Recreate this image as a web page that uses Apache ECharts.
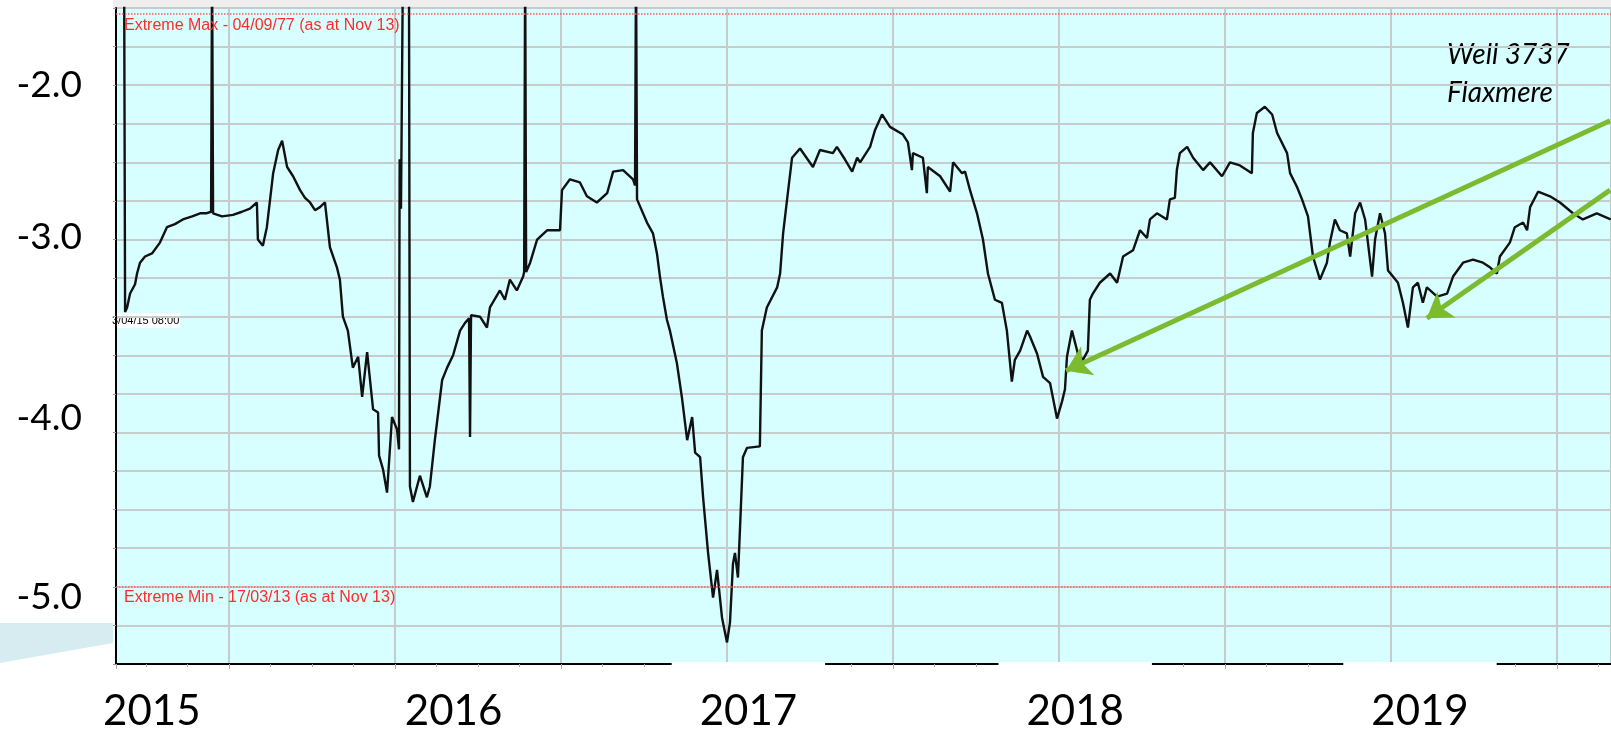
<!DOCTYPE html>
<html lang="en">
<head>
  <meta charset="UTF-8">
  <title>Well 3737 Flaxmere</title>
  <script src="https://cdn.jsdelivr.net/npm/echarts@6.0.0/dist/echarts.min.js"></script>
  <style>
    html, body { margin: 0; padding: 0; background: #fff; }
    #main { width: 1611px; height: 732px; }
  </style>
</head>
<body>
  <div id="main"></div>
<script type="text/javascript">
  // time as decimal years, level in m
  var years = [
    2015.184, 2015.187, 2015.193, 2015.202, 2015.217, 2015.223, 2015.232, 2015.247, 2015.268, 2015.292,
    2015.313, 2015.337, 2015.361, 2015.389, 2015.413, 2015.431, 2015.446, 2015.449, 2015.452, 2015.479,
    2015.512, 2015.539, 2015.563, 2015.584, 2015.587, 2015.602, 2015.614, 2015.633, 2015.648, 2015.660,
    2015.675, 2015.693, 2015.714, 2015.729, 2015.744, 2015.759, 2015.774, 2015.789, 2015.804, 2015.825,
    2015.834, 2015.843, 2015.858, 2015.873, 2015.889, 2015.901, 2015.916, 2015.934, 2015.949, 2015.952,
    2015.964, 2015.976, 2015.991, 2016.006, 2016.012, 2016.014, 2016.017, 2016.018, 2016.024, 2016.042,
    2016.045, 2016.054, 2016.075, 2016.096, 2016.105, 2016.120, 2016.142, 2016.157, 2016.175, 2016.196,
    2016.211, 2016.223, 2016.226, 2016.229, 2016.256, 2016.277, 2016.286, 2016.316, 2016.331, 2016.346,
    2016.367, 2016.386, 2016.389, 2016.392, 2016.395, 2016.407, 2016.428, 2016.458, 2016.497, 2016.503,
    2016.527, 2016.557, 2016.578, 2016.608, 2016.639, 2016.657, 2016.687, 2016.717, 2016.723, 2016.726,
    2016.729, 2016.759, 2016.777, 2016.789, 2016.798, 2016.807, 2016.819, 2016.828, 2016.849, 2016.864,
    2016.880, 2016.895, 2016.904, 2016.919, 2016.928, 2016.943, 2016.958, 2016.970, 2016.985, 2017.000,
    2017.009, 2017.018, 2017.024, 2017.033, 2017.039, 2017.048, 2017.060, 2017.099, 2017.105, 2017.120,
    2017.151, 2017.160, 2017.169, 2017.181, 2017.196, 2017.220, 2017.259, 2017.280, 2017.319, 2017.331,
    2017.355, 2017.377, 2017.392, 2017.401, 2017.431, 2017.446, 2017.467, 2017.491, 2017.530, 2017.545,
    2017.557, 2017.560, 2017.590, 2017.602, 2017.605, 2017.642, 2017.672, 2017.681, 2017.708, 2017.717,
    2017.732, 2017.753, 2017.771, 2017.786, 2017.807, 2017.828, 2017.843, 2017.858, 2017.867, 2017.883,
    2017.904, 2017.913, 2017.934, 2017.952, 2017.973, 2017.994, 2018.009, 2018.018, 2018.024, 2018.039,
    2018.057, 2018.072, 2018.087, 2018.093, 2018.102, 2018.123, 2018.154, 2018.175, 2018.193, 2018.223,
    2018.244, 2018.265, 2018.274, 2018.295, 2018.325, 2018.334, 2018.349, 2018.355, 2018.364, 2018.386,
    2018.404, 2018.434, 2018.455, 2018.491, 2018.515, 2018.545, 2018.581, 2018.584, 2018.596, 2018.620,
    2018.642, 2018.657, 2018.687, 2018.696, 2018.717, 2018.732, 2018.750, 2018.765, 2018.786, 2018.807,
    2018.816, 2018.831, 2018.846, 2018.867, 2018.877, 2018.892, 2018.907, 2018.922, 2018.943, 2018.952,
    2018.967, 2018.982, 2018.991, 2019.006, 2019.021, 2019.036, 2019.051, 2019.066, 2019.081, 2019.096,
    2019.108, 2019.139, 2019.169, 2019.187, 2019.217, 2019.247, 2019.277, 2019.298, 2019.319, 2019.328,
    2019.358, 2019.373, 2019.398, 2019.410, 2019.419, 2019.443, 2019.479, 2019.509, 2019.548, 2019.578,
    2019.620, 2019.662
  ];
  var levels = [
    -1.20, -3.47, -3.44, -3.35, -3.29, -3.22, -3.15, -3.11, -3.09, -3.02,
    -2.92, -2.90, -2.87, -2.85, -2.83, -2.83, -2.82, -1.20, -2.83, -2.85,
    -2.84, -2.82, -2.80, -2.76, -3.00, -3.04, -2.92, -2.57, -2.42, -2.36,
    -2.53, -2.59, -2.68, -2.73, -2.76, -2.81, -2.79, -2.76, -3.05, -3.18,
    -3.26, -3.50, -3.59, -3.83, -3.76, -4.02, -3.73, -4.10, -4.12, -4.40,
    -4.49, -4.64, -4.15, -4.23, -4.36, -2.48, -2.48, -2.80, -1.20, -1.20,
    -4.60, -4.70, -4.53, -4.67, -4.60, -4.30, -3.91, -3.83, -3.75, -3.59,
    -3.54, -3.51, -4.28, -3.49, -3.50, -3.57, -3.44, -3.33, -3.39, -3.26,
    -3.33, -3.24, -3.21, -1.20, -3.21, -3.15, -3.00, -2.94, -2.94, -2.68,
    -2.61, -2.63, -2.72, -2.76, -2.70, -2.56, -2.55, -2.61, -2.65, -1.20,
    -2.74, -2.89, -2.96, -3.09, -3.24, -3.37, -3.52, -3.59, -3.80, -4.02,
    -4.30, -4.15, -4.38, -4.41, -4.67, -5.03, -5.32, -5.14, -5.45, -5.61,
    -5.48, -5.10, -5.03, -5.19, -4.88, -4.41, -4.35, -4.34, -3.59, -3.44,
    -3.31, -3.22, -2.96, -2.74, -2.47, -2.41, -2.53, -2.42, -2.44, -2.40,
    -2.48, -2.56, -2.47, -2.50, -2.40, -2.29, -2.19, -2.27, -2.32, -2.37,
    -2.55, -2.44, -2.47, -2.70, -2.53, -2.59, -2.69, -2.50, -2.57, -2.56,
    -2.68, -2.83, -3.00, -3.22, -3.39, -3.41, -3.59, -3.92, -3.78, -3.72,
    -3.59, -3.63, -3.74, -3.89, -3.93, -4.16, -4.05, -3.97, -3.76, -3.59,
    -3.74, -3.78, -3.72, -3.39, -3.35, -3.28, -3.22, -3.28, -3.11, -3.07,
    -2.94, -2.99, -2.87, -2.83, -2.87, -2.74, -2.73, -2.55, -2.44, -2.40,
    -2.47, -2.55, -2.50, -2.59, -2.50, -2.52, -2.57, -2.31, -2.18, -2.14,
    -2.19, -2.31, -2.44, -2.57, -2.66, -2.74, -2.85, -3.11, -3.26, -3.15,
    -3.02, -2.87, -2.94, -2.96, -3.11, -2.83, -2.76, -2.87, -3.24, -3.00,
    -2.83, -2.96, -3.20, -3.24, -3.28, -3.41, -3.57, -3.31, -3.28, -3.41,
    -3.31, -3.37, -3.35, -3.24, -3.15, -3.13, -3.15, -3.18, -3.22, -3.11,
    -3.02, -2.92, -2.89, -2.94, -2.79, -2.69, -2.72, -2.76, -2.83, -2.87,
    -2.83, -2.87
  ];
  var yearLabels = [2015, 2016, 2017, 2018, 2019];
  var levelLabels = [-2, -3, -4, -5];
  var extremeMax = -1.54;
  var extremeMin = -5.25;
  // green pointer arrows (tail at right edge, head on the curve)
  var arrowTails = [[2019.66, -2.23], [2019.66, -2.68]];
  var arrowHeads = [[2018.021, -3.85], [2019.108, -3.51]];

  // the pasted-on labels of the slide sit a little off the axis positions
  var yearNudge = { 2015: 14, 2016: 0, 2017: -21, 2018: -10, 2019: 19 };
  var boxedYears = [2017, 2018, 2019];
  var levelNudge = { '-2': 0, '-3': -2, '-4': 24, '-5': 49 };

  var gridColor = '#c6cccc';
  var extremeRed = '#ff2b2b';
  var arrowGreen = '#7cba2f';

  var chart = echarts.init(document.getElementById('main'));

  var seriesData = years.map(function (t, i) { return [t, levels[i]]; });

  function extremeLine(value, text) {
    return {
      yAxis: value,
      lineStyle: { color: '#ff5a5a', type: 'dotted', width: 1.5 },
      label: {
        show: true,
        position: 'insideStartBottom',
        distance: [8, 3],
        formatter: text,
        color: extremeRed,
        fontSize: 16,
        fontFamily: 'Liberation Sans'
      }
    };
  }

  function arrowLine(tail, head) {
    return [
      {
        coord: tail,
        lineStyle: { color: arrowGreen, width: 5, type: 'solid' },
        label: { show: false }
      },
      { coord: head, symbol: 'arrow', symbolSize: 24, itemStyle: { color: arrowGreen } }
    ];
  }

  var markData = [
    extremeLine(extremeMax, 'Extreme Max - 04/09/77 (as at Nov 13)'),
    extremeLine(extremeMin, 'Extreme Min - 17/03/13 (as at Nov 13)')
  ].concat(arrowTails.map(function (tail, i) { return arrowLine(tail, arrowHeads[i]); }));

  // rich styles for the year labels (white boxes + spacers)
  var yearFont = { fontSize: 42, fontFamily: 'Lato', color: '#000', lineHeight: 42 };
  var yearRich = {
    w: Object.assign({ backgroundColor: '#fff', padding: [28, 28, 28, 28] }, yearFont),
    n: Object.assign({}, yearFont)
  };
  Object.keys(yearNudge).forEach(function (k) {
    var s = Math.abs(yearNudge[k]);
    if (s) yearRich['g' + s] = Object.assign({ width: 2 * s }, yearFont);
  });

  var levelFont = { fontSize: 37, fontFamily: 'Lato', color: '#000', lineHeight: 37 };
  var levelRich = {};
  Object.keys(levelNudge).forEach(function (k) {
    var s = levelNudge[k];
    levelRich['p' + (s < 0 ? 'm' : '') + Math.abs(s)] = Object.assign({
      padding: s >= 0 ? [2 * s, 0, 0, 0] : [0, 0, -2 * s, 0]
    }, levelFont);
  });

  chart.setOption({
    animation: false,
    grid: {
      left: 116,
      top: 8,
      right: 0,
      bottom: 68,
      outerBoundsMode: 'none',
      containLabel: false,
      show: true,
      backgroundColor: '#d7ffff',
      borderColor: '#999',
      borderWidth: 1
    },
    xAxis: [
      {
        type: 'value',
        position: 'bottom',
        min: 2015.1596,
        max: 2019.6627,
        splitNumber: 9,
        minInterval: 0.5,
        maxInterval: 0.5,
        axisLine: { show: true, onZero: false, lineStyle: { color: '#000', width: 2 } },
        axisTick: { show: true, length: 5, lineStyle: { color: '#aaa' } },
        minorTick: { show: true, splitNumber: 4, length: 3, lineStyle: { color: '#aaa' } },
        axisLabel: { show: false },
        splitLine: { show: true, showMinLine: false, showMaxLine: false, lineStyle: { color: gridColor, width: 2 } }
      },
      {
        // overlay year labels
        type: 'value',
        position: 'bottom',
        min: 2014.931,
        max: 2019.665,
        z: 10,
        axisLine: { show: false },
        axisTick: { show: false },
        splitLine: { show: false },
        axisLabel: {
          show: true,
          customValues: yearLabels,
          margin: 47,
          verticalAlign: 'middle',
          formatter: function (v) {
            var s = yearNudge[v] || 0;
            var key = boxedYears.indexOf(v) >= 0 ? 'w' : 'n';
            var label = '{' + key + '|' + v + '}';
            if (!s) return label;
            var gap = '{g' + Math.abs(s) + '| }';
            return s > 0 ? gap + label : label + gap;
          },
          rich: yearRich
        }
      }
    ],
    yAxis: {
      type: 'value',
      position: 'left',
      min: -5.75,
      max: -1.5,
      interval: 0.25,
      axisLine: { show: true, onZero: false, lineStyle: { color: '#000', width: 2 } },
      axisTick: { show: true, length: 3, lineStyle: { color: '#999' } },
      axisLabel: {
        show: true,
        customValues: levelLabels,
        margin: 34,
        verticalAlign: 'middle',
        formatter: function (v) {
          var s = levelNudge[String(v)] || 0;
          return '{p' + (s < 0 ? 'm' : '') + Math.abs(s) + '|' + v.toFixed(1) + '}';
        },
        rich: levelRich
      },
      splitLine: { show: true, lineStyle: { color: gridColor, width: 2 } }
    },
    series: [
      {
        name: 'Well 3737',
        type: 'line',
        data: seriesData,
        showSymbol: false,
        clip: true,
        lineStyle: { color: '#111', width: 2.4 },
        markLine: {
          silent: true,
          animation: false,
          symbol: 'none',
          data: markData
        }
      }
    ],
    graphic: [
      {
        type: 'rect',
        shape: { x: 113, y: 0, width: 1498, height: 8 },
        style: { fill: '#eeeeee' }
      },
      {
        type: 'polygon',
        shape: { points: [[0, 623], [113, 623], [113, 643], [0, 663]] },
        style: { fill: '#d6ecf1' }
      },
      {
        type: 'text',
        x: 112,
        y: 313,
        style: {
          text: '3/04/15 08:00',
          fontSize: 11,
          fontFamily: 'Liberation Sans',
          fill: '#000',
          backgroundColor: '#fff',
          padding: [2, 1, 2, 0]
        }
      },
      {
        type: 'text',
        x: 1447,
        y: 36,
        style: {
          text: 'Well 3737\nFlaxmere',
          fontSize: 28,
          fontStyle: 'italic',
          fontFamily: 'Lato',
          lineHeight: 38,
          fill: '#000'
        }
      }
    ]
  });
</script>
</body>
</html>
